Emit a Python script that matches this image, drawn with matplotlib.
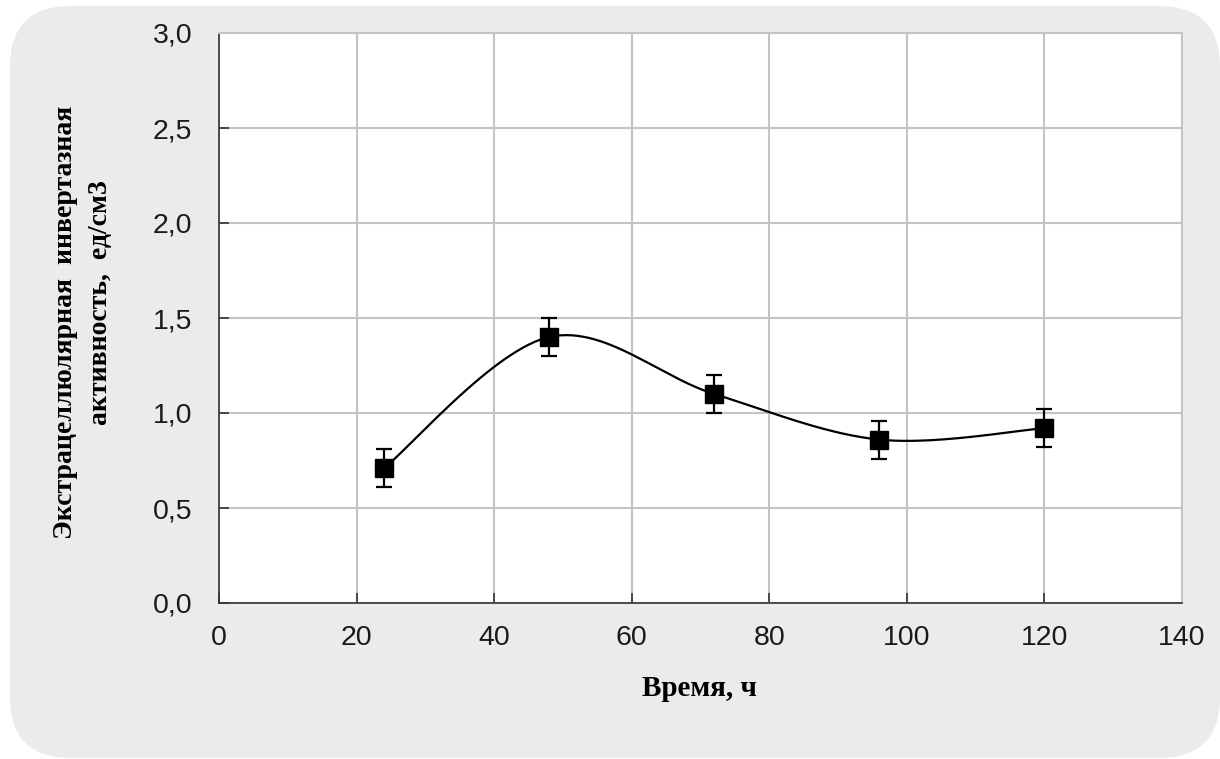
import numpy as np
import matplotlib
matplotlib.use("Agg")
import matplotlib.pyplot as plt
from matplotlib.patches import FancyBboxPatch
from matplotlib.ticker import FuncFormatter

# Data
time_h = [24, 48, 72, 96, 120]
activity = [0.71, 1.40, 1.10, 0.86, 0.92]
err = [0.10, 0.10, 0.10, 0.10, 0.10]
x_ticks = [0, 20, 40, 60, 80, 100, 120, 140]
y_ticks = [0.0, 0.5, 1.0, 1.5, 2.0, 2.5, 3.0]


def smooth_curve(xs, ys, n=60):
    P = np.column_stack([np.asarray(xs, float), np.asarray(ys, float)])
    ext = np.vstack([P[0], P, P[-1]])
    out = []
    for i in range(1, len(ext) - 2):
        p0, p1, p2, p3 = ext[i - 1], ext[i], ext[i + 1], ext[i + 2]
        c1 = p1 + (p2 - p0) / 6.0
        c2 = p2 - (p3 - p1) / 6.0
        t = np.linspace(0, 1, n)[:, None]
        seg = ((1 - t) ** 3) * p1 + 3 * ((1 - t) ** 2) * t * c1 + 3 * (1 - t) * t ** 2 * c2 + t ** 3 * p2
        out.append(seg)
    c = np.vstack(out)
    return c[:, 0], c[:, 1]


fig = plt.figure(figsize=(12.2, 7.59), dpi=100)
fig.patch.set_facecolor("white")

W, H = 1220, 759
bg = FancyBboxPatch((10 / W, 1 / H), (1220 - 10) / W, (753 - 1) / H,
                    boxstyle="round,pad=0,rounding_size=0.05",
                    transform=fig.transFigure, facecolor="#ebebeb",
                    edgecolor="none", zorder=-10, mutation_aspect=W / H)
fig.patches.append(bg)

ax = fig.add_axes([219 / W, 1 - 603 / H, (1182 - 219) / W, (603 - 33) / H])
ax.set_zorder(5)
ax.set_facecolor("white")
ax.set_xlim(0, 140)
ax.set_ylim(0, 3.0)
ax.set_xticks(x_ticks)
ax.set_yticks(y_ticks)
ax.yaxis.set_major_formatter(FuncFormatter(lambda v, p: f"{v:.1f}".replace(".", ",")))
ax.xaxis.set_major_formatter(FuncFormatter(lambda v, p: f"{int(v)}"))
ax.grid(True, color="#c4c4c4", linewidth=1.5)
ax.set_axisbelow(True)
for s in ["top", "right"]:
    ax.spines[s].set_color("#c4c4c4")
    ax.spines[s].set_linewidth(1.5)
for s in ["left", "bottom"]:
    ax.spines[s].set_color("#333333")
    ax.spines[s].set_linewidth(1.2)
ax.tick_params(direction="in", length=7, width=1.2, color="#333333",
               labelsize=20.5, labelcolor="#1a1a1a")
ax.tick_params(axis="y", pad=19)
ax.tick_params(axis="x", pad=16)
for lab in ax.get_xticklabels() + ax.get_yticklabels():
    lab.set_fontfamily(["Liberation Sans", "DejaVu Sans"])

cx, cy = smooth_curve(time_h, activity)
ax.plot(cx, cy, color="black", linewidth=1.6, zorder=3)
ax.errorbar(time_h, activity, yerr=err, fmt="s", color="black", markersize=13,
            ecolor="black", elinewidth=1.6, capsize=6, capthick=1.6, zorder=4)

serif = ["Liberation Serif", "DejaVu Serif"]
fig.text(699 / W, 1 - 688 / H, "Время, ч", ha="center", va="center",
         fontsize=21, fontweight="bold", family=serif)
fig.text(66 / W, 1 - 322 / H, "Экстрацеллюлярная  инвертазная",
         ha="center", va="center", rotation=90, fontsize=20, fontweight="bold",
         family=serif)
fig.text(101 / W, 1 - 303 / H, "активность,  ед/см3",
         ha="center", va="center", rotation=90, fontsize=20, fontweight="bold",
         family=serif)

fig.savefig("out.png", dpi=100)
